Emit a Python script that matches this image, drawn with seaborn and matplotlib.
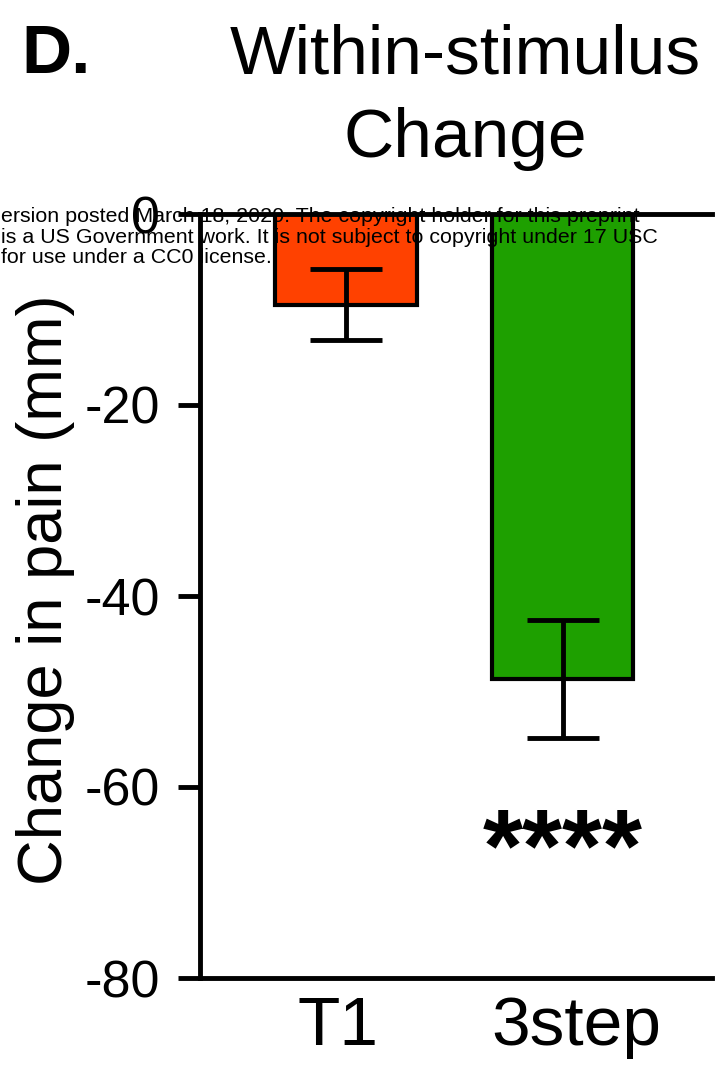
import matplotlib
matplotlib.use("Agg")
import matplotlib.pyplot as plt
from matplotlib.transforms import ScaledTranslation
import seaborn as sns
import pandas as pd

# Mean within-stimulus change in pain rating (mm) with SEM
groups = ["T1", "3step"]
mean_change = [-9.5, -48.7]
sem_change = [3.7, 6.2]
bar_colors = ["#FF4100", "#1EA000"]
ytick_values = [0, -20, -40, -60, -80]
significance = "****"
star_level = -69.9
notice_lines = [
    "ersion posted March 18, 2020. The copyright holder for this preprint",
    "is a US Government work. It is not subject to copyright under 17 USC",
    "for use under a CC0 license.",
]

sns.set_theme(style="ticks")
plt.rcParams["font.family"] = ["Liberation Sans", "DejaVu Sans"]
plt.rcParams["axes.unicode_minus"] = False
plt.rcParams["text.color"] = "black"
plt.rcParams["axes.labelcolor"] = "black"
plt.rcParams["xtick.color"] = "black"
plt.rcParams["ytick.color"] = "black"

W, H = 719, 1085
fig = plt.figure(figsize=(W / 100, H / 100), dpi=100)
fig.patch.set_facecolor("white")
ax = fig.add_axes([200 / W, 1 - 978 / H, 512 / W, (978 - 214) / H])
ax.set_facecolor("white")

df = pd.DataFrame({"group": groups, "change": mean_change})
sns.barplot(
    data=df, x="group", y="change", hue="group", palette=bar_colors,
    legend=False, width=0.65, edgecolor="black", linewidth=3,
    errorbar=None, saturation=1, ax=ax, zorder=2,
)
ax.errorbar(
    x=range(len(groups)), y=mean_change, yerr=sem_change, fmt="none",
    ecolor="black", elinewidth=3.5, capsize=26, capthick=3.5, zorder=5,
)

ax.set_ylim(-80, 0)
ax.set_xlim(-0.673, 1.687)
ax.set_yticks(ytick_values)
ax.set_yticklabels([str(v) for v in ytick_values])

for side in ["left", "top", "bottom"]:
    ax.spines[side].set_linewidth(3.5)
    ax.spines[side].set_color("black")
    ax.spines[side].set_zorder(6)
ax.spines["right"].set_visible(False)

ax.tick_params(axis="y", length=16, width=3.5, pad=13, labelsize=37.5, colors="black")
ax.tick_params(axis="x", length=0, pad=12, labelsize=50, colors="black")
ax.set_xlabel("")
ax.set_ylabel("Change in pain (mm)", fontsize=45.5, va="center", color="black")
ax.yaxis.set_label_coords((46 - 200) / 512, (978 - 590) / 764)

# small horizontal nudges of the category labels
for lab, dx in zip(ax.get_xticklabels(), [-8, 13]):
    lab.set_transform(lab.get_transform() + ScaledTranslation(dx / 100, 0, fig.dpi_scale_trans))

ax.text(1, star_level, significance, ha="center", va="baseline", fontsize=74,
        fontweight="bold", color="black", zorder=6)

# Panel letter and title
fig.text(21 / W, 1 - 73 / H, "D.", fontsize=50, fontweight="bold", ha="left", va="baseline", color="black")
fig.text(465 / W, 1 - 74 / H, "Within-stimulus", fontsize=50, ha="center", va="baseline", color="black")
fig.text(465 / W, 1 - 157 / H, "Change", fontsize=50, ha="center", va="baseline", color="black")

# Preprint notice running across the top of the plot
for line, base in zip(notice_lines, [222, 243, 263]):
    fig.text(1 / W, 1 - base / H, line, fontsize=15.4, ha="left", va="baseline",
             color="black", zorder=10)

fig.savefig("out.png", dpi=100, facecolor="white")
